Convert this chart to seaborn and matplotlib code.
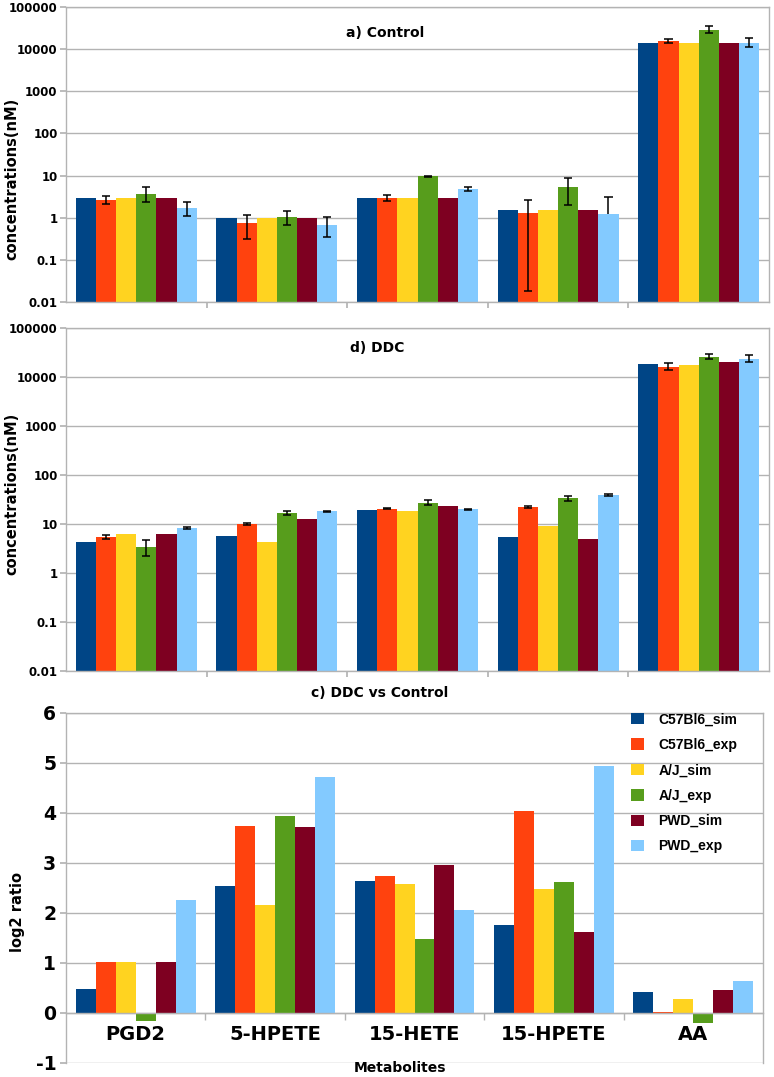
import numpy as np
import pandas as pd
import seaborn as sns
import matplotlib
matplotlib.use("Agg")
import matplotlib.pyplot as plt
from matplotlib.ticker import FixedLocator, FixedFormatter, NullFormatter

# ---------------- data ----------------
metabolites = ["PGD2", "5-HPETE", "15-HETE", "15-HPETE", "AA"]
series = ["C57Bl6_sim", "C57Bl6_exp", "A/J_sim", "A/J_exp", "PWD_sim", "PWD_exp"]
colors = ["#004586", "#ff420e", "#ffd320", "#579d1c", "#7e0021", "#83caff"]

# a) Control concentrations (nM)
ctrl_c57_sim = [3.0, 0.97, 3.0, 1.55, 13700]
ctrl_c57_exp = [2.6, 0.73, 3.0, 1.31, 15500]
ctrl_aj_sim = [3.0, 1.0, 2.9, 1.55, 13900]
ctrl_aj_exp = [3.7, 1.04, 9.6, 5.3, 28800]
ctrl_pwd_sim = [3.0, 0.97, 2.9, 1.55, 13900]
ctrl_pwd_exp = [1.7, 0.67, 4.7, 1.2, 14300]
ctrl_c57_exp_lo = [2.15, 0.32, 2.45, 0.018, 13700]
ctrl_c57_exp_hi = [3.2, 1.18, 3.5, 2.64, 17300]
ctrl_aj_exp_lo = [2.37, 0.68, 9.5, 2.0, 23600]
ctrl_aj_exp_hi = [5.3, 1.44, 9.8, 8.6, 35700]
ctrl_pwd_exp_lo = [1.12, 0.34, 4.35, np.nan, 11000]
ctrl_pwd_exp_hi = [2.37, 1.02, 5.3, 3.05, 18500]

# d) DDC concentrations (nM)
ddc_c57_sim = [4.3, 5.7, 19.0, 5.4, 18400]
ddc_c57_exp = [5.4, 10.1, 20.5, 22.2, 16200]
ddc_aj_sim = [6.2, 4.3, 18.4, 9.0, 17300]
ddc_aj_exp = [3.4, 16.5, 27.2, 33.4, 25600]
ddc_pwd_sim = [6.2, 12.6, 23.3, 4.9, 19900]
ddc_pwd_exp = [8.2, 18.2, 20.2, 38.5, 23000]
ddc_c57_exp_lo = [5.0, 9.7, 19.9, 20.9, 13800]
ddc_c57_exp_hi = [6.0, 10.5, 21.1, 23.6, 19000]
ddc_aj_exp_lo = [2.2, 15.1, 24.4, 30.0, 23000]
ddc_aj_exp_hi = [4.7, 18.4, 30.8, 37.8, 29000]
ddc_pwd_exp_lo = [7.8, 17.6, 19.7, 37.0, 19900]
ddc_pwd_exp_hi = [8.8, 18.8, 20.7, 40.0, 27700]

# c) DDC vs Control log2 ratio
ratio_c57_sim = [0.48, 2.55, 2.65, 1.77, 0.42]
ratio_c57_exp = [1.03, 3.74, 2.75, 4.04, 0.03]
ratio_aj_sim = [1.03, 2.17, 2.59, 2.48, 0.28]
ratio_aj_exp = [-0.15, 3.94, 1.49, 2.63, -0.19]
ratio_pwd_sim = [1.02, 3.72, 2.96, 1.63, 0.47]
ratio_pwd_exp = [2.26, 4.72, 2.07, 4.95, 0.65]

log_ticks = [0.01, 0.1, 1, 10, 100, 1000, 10000, 100000]
log_tick_labels = ["0.01", "0.1", "1", "10", "100", "1000", "10000", "100000"]
ratio_ticks = [-1, 0, 1, 2, 3, 4, 5, 6]


def long_df(cols):
    rows = []
    for s, vals in zip(series, cols):
        for m, v in zip(metabolites, vals):
            rows.append({"metabolite": m, "series": s, "value": v})
    return pd.DataFrame(rows)


ctrl_df = long_df([ctrl_c57_sim, ctrl_c57_exp, ctrl_aj_sim, ctrl_aj_exp, ctrl_pwd_sim, ctrl_pwd_exp])
ddc_df = long_df([ddc_c57_sim, ddc_c57_exp, ddc_aj_sim, ddc_aj_exp, ddc_pwd_sim, ddc_pwd_exp])
ratio_df = long_df([ratio_c57_sim, ratio_c57_exp, ratio_aj_sim, ratio_aj_exp, ratio_pwd_sim, ratio_pwd_exp])

ctrl_err = {1: (ctrl_c57_exp, ctrl_c57_exp_lo, ctrl_c57_exp_hi),
            3: (ctrl_aj_exp, ctrl_aj_exp_lo, ctrl_aj_exp_hi),
            5: (ctrl_pwd_exp, ctrl_pwd_exp_lo, ctrl_pwd_exp_hi)}
ddc_err = {1: (ddc_c57_exp, ddc_c57_exp_lo, ddc_c57_exp_hi),
           3: (ddc_aj_exp, ddc_aj_exp_lo, ddc_aj_exp_hi),
           5: (ddc_pwd_exp, ddc_pwd_exp_lo, ddc_pwd_exp_hi)}

# ---------------- style ----------------
sns.set_theme(style="white")
plt.rcParams["font.family"] = ["DejaVu Sans"]
plt.rcParams["font.weight"] = "bold"
plt.rcParams["axes.unicode_minus"] = False
for k in ["text.color", "axes.labelcolor", "xtick.color", "ytick.color"]:
    plt.rcParams[k] = "black"
GRID = "#b3b3b3"

fig = plt.figure(figsize=(7.74, 10.77), dpi=100)
ax1 = fig.add_axes([66 / 774, 1 - 302 / 1077, 703 / 774, 295 / 1077])
ax2 = fig.add_axes([66 / 774, 1 - 671 / 1077, 703 / 774, 343 / 1077])
ax3 = fig.add_axes([66 / 774, 1 - 1063 / 1077, 697 / 774, 350 / 1077])


def draw_bars(ax, df, legend):
    sns.barplot(data=df, x="metabolite", y="value", hue="series", order=metabolites,
                hue_order=series, palette=colors, width=0.86, gap=0, errorbar=None,
                saturation=1, linewidth=0, legend=legend, ax=ax, zorder=2)
    ax.set_xlim(-0.5, len(metabolites) - 0.5)
    ax.set_xlabel("")
    ax.set_ylabel("")
    for sp in ax.spines.values():
        sp.set_color(GRID)
        sp.set_linewidth(1)
    ax.yaxis.grid(True, color=GRID, linewidth=1, zorder=0)
    ax.xaxis.grid(False)
    ax.set_axisbelow(True)


def draw_err(ax, errs):
    for hi_idx, (vals, los, his) in errs.items():
        bars = ax.containers[hi_idx]
        for bar, v, lo, hi in zip(bars, vals, los, his):
            xc = bar.get_x() + bar.get_width() / 2
            cw = bar.get_width() * 0.2
            bottom = v if np.isnan(lo) else lo
            ax.vlines(xc, bottom, hi, color="black", linewidth=1.1, zorder=4)
            ax.hlines(hi, xc - cw, xc + cw, color="black", linewidth=1.1, zorder=4)
            if not np.isnan(lo):
                ax.hlines(lo, xc - cw, xc + cw, color="black", linewidth=1.1, zorder=4)


def style_log(ax, title, tx, ty, label_y):
    ax.set_yscale("log")
    ax.set_ylim(0.01, 100000)
    ax.yaxis.set_major_locator(FixedLocator(log_ticks))
    ax.yaxis.set_major_formatter(FixedFormatter(log_tick_labels))
    ax.yaxis.set_minor_locator(FixedLocator([]))
    ax.tick_params(axis="y", which="major", labelsize=8.5, length=4, color=GRID, left=True, pad=2)
    for lab in ax.get_yticklabels():
        lab.set_fontweight("bold")
    ax.xaxis.set_major_locator(FixedLocator([0.5, 1.5, 2.5, 3.5]))
    ax.xaxis.set_major_formatter(NullFormatter())
    ax.tick_params(axis="x", which="major", length=4, color=GRID, bottom=True)
    ax.set_ylabel("concentrations(nM)", fontsize=10.5, fontweight="bold")
    ax.yaxis.set_label_coords((19 - 66) / 703, label_y)
    ax.text(tx, ty, title, transform=ax.transAxes, ha="center", va="center",
            fontsize=10, fontweight="bold")


draw_bars(ax1, ctrl_df, False)
style_log(ax1, "a) Control", 0.454, 0.912, (302 - 179) / 295)
draw_err(ax1, ctrl_err)

draw_bars(ax2, ddc_df, False)
style_log(ax2, "d) DDC", 0.442, 0.942, (671 - 494) / 343)
draw_err(ax2, ddc_err)

draw_bars(ax3, ratio_df, True)
ax3.set_ylim(-1, 6)
ax3.yaxis.set_major_locator(FixedLocator(ratio_ticks))
ax3.tick_params(axis="y", labelsize=13.5, length=4, color=GRID, left=True, pad=3)
for lab in ax3.get_yticklabels():
    lab.set_fontweight("bold")
ax3.spines["bottom"].set_position(("data", 0))
ax3.xaxis.set_minor_locator(FixedLocator([0.5, 1.5, 2.5, 3.5]))
ax3.tick_params(axis="x", which="major", length=0, labelsize=14, pad=9)
ax3.tick_params(axis="x", which="minor", length=5, color=GRID, bottom=True)
for lab in ax3.get_xticklabels():
    lab.set_fontweight("bold")
ax3.set_ylabel("log2 ratio", fontsize=10.5, fontweight="bold")
ax3.yaxis.set_label_coords((25 - 66) / 697, (1063 - 912) / 350)

handles, labels = ax3.get_legend_handles_labels()
ax3.legend(handles, labels, loc="upper left", bbox_to_anchor=(618 / 774, 1 - 700 / 1077),
           bbox_transform=fig.transFigure, frameon=False,
           prop={"family": "Liberation Sans", "weight": "bold", "size": 10},
           handlelength=1.0, handleheight=0.9, labelspacing=0.82, handletextpad=1.0)

fig.text(380 / 774, 1 - 693 / 1077, "c) DDC vs Control", ha="center", va="center",
         fontsize=10, fontweight="bold")
fig.text(400 / 774, 1 - 1068 / 1077, "Metabolites", ha="center", va="center",
         fontsize=10, fontweight="bold")

fig.savefig("out.png", dpi=100)
